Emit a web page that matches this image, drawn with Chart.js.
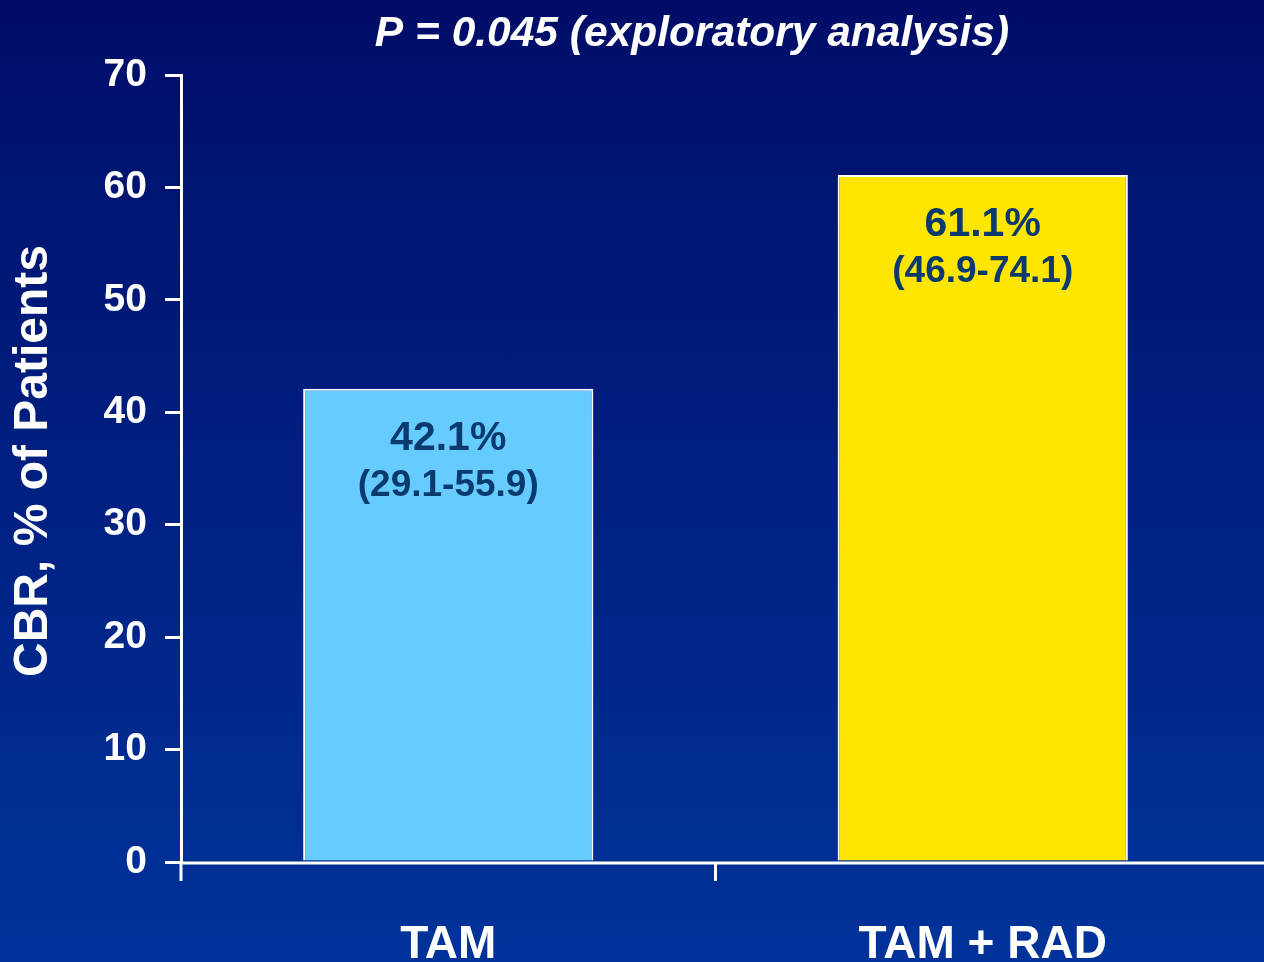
<!DOCTYPE html>
<html>
<head>
<meta charset="utf-8">
<style>
  html, body { margin: 0; padding: 0; }
  body { width: 1264px; height: 962px; overflow: hidden;
         background: linear-gradient(to bottom, #000d68 0%, #00339a 100%); }
  #wrap { position: relative; width: 1264px; height: 962px; }
  canvas { display: block; }
</style>
<script src="https://cdn.jsdelivr.net/npm/chart.js@4/dist/chart.umd.min.js"></script>
</head>
<body>
<div id="wrap"><canvas id="cbr" width="1264" height="962"></canvas></div>
<script>
// Clinical benefit rate by treatment arm
const arms = ['TAM', 'TAM + RAD'];
const cbrPercent = [42.1, 61.1];
const confidenceIntervals = ['(29.1-55.9)', '(46.9-74.1)'];
const barColors = ['#66ccff', '#ffe600'];
const yTicks = [0, 10, 20, 30, 40, 50, 60, 70];
const pValueNote = 'P = 0.045 (exploratory analysis)';
const yTitle = 'CBR, % of Patients';

const FONT = '"Liberation Sans", Arial, Helvetica, sans-serif';
Chart.defaults.font.family = FONT;

// Percentage and interval text inside each bar, heading, axis title and x-axis line/ticks
const annotate = {
  id: 'annotate',
  afterDatasetsDraw(chart) {
    const ctx = chart.ctx;
    const meta = chart.getDatasetMeta(0);
    ctx.save();
    ctx.textAlign = 'center';
    ctx.textBaseline = 'middle';
    ctx.fillStyle = '#0b3a6e';
    meta.data.forEach((bar, i) => {
      ctx.font = 'bold 41px ' + FONT;
      ctx.fillText(cbrPercent[i].toFixed(1) + '%', bar.x, bar.y + 50);
      ctx.font = 'bold 37px ' + FONT;
      ctx.fillText(confidenceIntervals[i], bar.x, bar.y + 97);
    });
    ctx.restore();
  },
  afterDraw(chart) {
    const ctx = chart.ctx;
    const a = chart.chartArea;
    const xs = chart.scales.x;
    const axisY = a.bottom + 1;
    ctx.save();
    ctx.strokeStyle = '#ffffff';
    ctx.lineWidth = 3;
    // x axis line from the origin to the right edge
    ctx.beginPath();
    ctx.moveTo(a.left - 1.5, axisY);
    ctx.lineTo(chart.width, axisY);
    ctx.stroke();
    // tick marks at the axis origin and between the two arms
    const between = (xs.getPixelForValue(0) + xs.getPixelForValue(1)) / 2;
    [a.left, between].forEach(px => {
      ctx.beginPath();
      ctx.moveTo(px, axisY);
      ctx.lineTo(px, axisY + 18);
      ctx.stroke();
    });
    // heading
    ctx.fillStyle = '#ffffff';
    ctx.font = 'italic bold 42.5px ' + FONT;
    ctx.textAlign = 'center';
    ctx.textBaseline = 'alphabetic';
    ctx.fillText(pValueNote, 692, 46);
    // vertical axis title
    ctx.translate(34, 461);
    ctx.rotate(-Math.PI / 2);
    ctx.textBaseline = 'middle';
    ctx.font = 'bold 48px ' + FONT;
    ctx.fillText(yTitle, 0, 0);
    ctx.restore();
  }
};

new Chart(document.getElementById('cbr'), {
  type: 'bar',
  data: {
    labels: arms,
    datasets: [{
      data: cbrPercent,
      backgroundColor: barColors,
      borderColor: '#ffffff',
      borderWidth: 2,
      borderSkipped: 'bottom',
      categoryPercentage: 1,
      barPercentage: 0.543
    }]
  },
  options: {
    responsive: false,
    animation: false,
    events: [],
    layout: { padding: { top: 75, right: 14, left: 0, bottom: 0 } },
    plugins: { legend: { display: false }, tooltip: { enabled: false }, title: { display: false } },
    scales: {
      x: {
        offset: true,
        grid: {
          offset: true,
          drawOnChartArea: false,
          drawTicks: true,
          tickLength: 18,
          lineWidth: 0,
          color: 'rgba(0,0,0,0)'
        },
        border: { display: false },
        ticks: {
          color: '#ffffff',
          font: { size: 46, weight: 'bold' },
          padding: 38,
          maxRotation: 0
        },
        afterFit(scale) { scale.height = 100; }
      },
      y: {
        min: 0,
        max: 70,
        afterBuildTicks(scale) { scale.ticks = yTicks.map(v => ({ value: v })); },
        grid: {
          drawOnChartArea: false,
          drawTicks: true,
          tickLength: 16,
          lineWidth: 3,
          color: '#ffffff'
        },
        border: { display: true, color: '#ffffff', width: 3 },
        ticks: {
          color: '#ffffff',
          font: { size: 39, weight: 'bold' },
          padding: 18
        },
        title: { display: false },
        afterFit(scale) { scale.width = 181; }
      }
    }
  },
  plugins: [annotate]
});
</script>
</body>
</html>
